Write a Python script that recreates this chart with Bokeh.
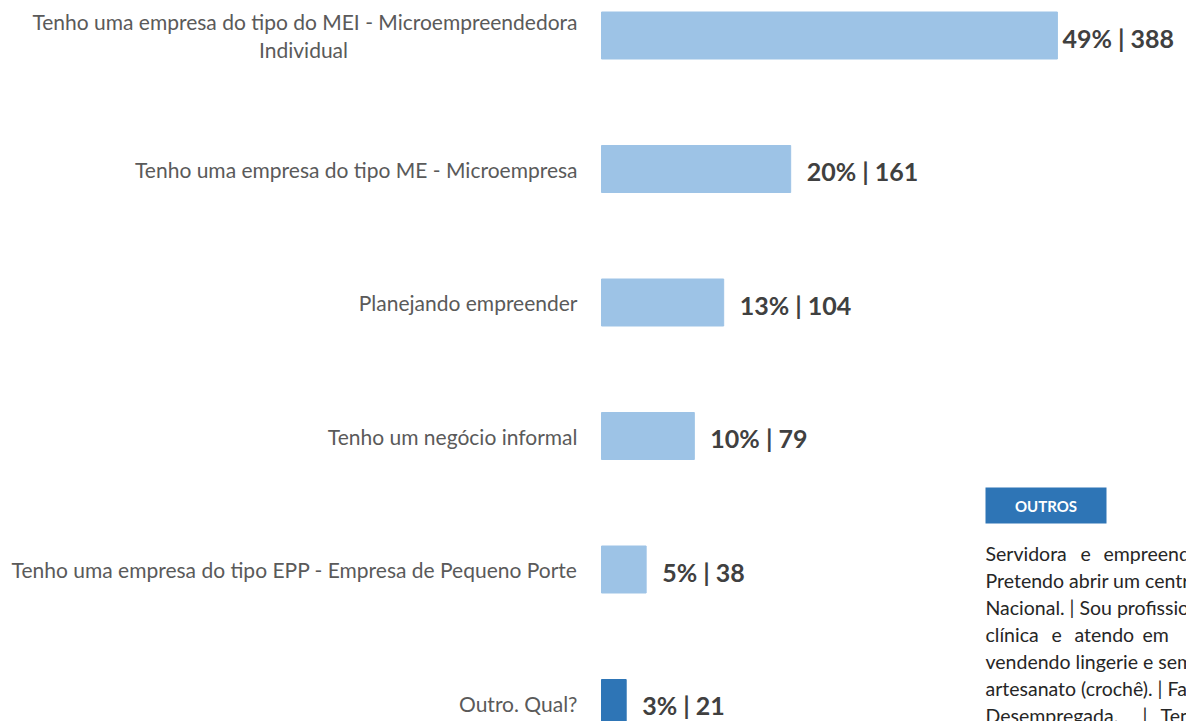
from bokeh.plotting import figure
from bokeh.models import Range1d, ColumnDataSource
from bokeh.core.properties import value
from bokeh.embed import file_html
from bokeh.resources import INLINE

# ---- data ----
categories = [
    "Tenho uma empresa do tipo do MEI - Microempreendedora\nIndividual",
    "Tenho uma empresa do tipo ME - Microempresa",
    "Planejando empreender",
    "Tenho um negócio informal",
    "Tenho uma empresa do tipo EPP - Empresa de Pequeno Porte",
    "Outro. Qual?",
]
percents = [49, 20, 13, 10, 5, 3]
counts = [388, 161, 104, 79, 38, 21]
outros_title = "OUTROS"
outros_lines = [
    ["Servidora", "e", "empreendedora."],
    ["Pretendo abrir um centro de estética."],
    ["Nacional. | Sou profissional liberal"],
    ["clínica", "e", "atendo", "em", "domicílio."],
    ["vendendo lingerie e semijoias."],
    ["artesanato (crochê). | Faço"],
    ["Desempregada.", "|", "Tenho"],
]

# ---- layout ----
W, H = 1186, 721
SCALE = 1.175      # px per count
X0 = 601           # canvas px of zero
Y0 = 35            # canvas px of first bar centre
STEP = 133.5       # px between bars
FONT = "Lato"

def px2x(px):
    return (px - X0) / SCALE

def px2y(py):
    return (py - Y0) / STEP

p = figure(width=W, height=H, output_backend="svg", toolbar_location=None,
           x_range=Range1d(px2x(0), px2x(W)), y_range=Range1d(px2y(H), px2y(0)),
           min_border=0)
p.xaxis.visible = False
p.yaxis.visible = False
p.grid.visible = False
p.outline_line_color = None
p.background_fill_color = "white"

idx = list(range(len(categories)))
colors = ["#9dc3e6"] * (len(categories) - 1) + ["#2e75b6"]
src = ColumnDataSource(dict(y=idx, n=counts, c=colors,
                            lab=[f"{pc}% | {n}" for pc, n in zip(percents, counts)],
                            xo=[5] + [16] * (len(counts) - 1)))
p.hbar(y="y", left=0, right="n", height=47 / STEP, color="c", source=src)

p.text(x="n", y="y", text="lab", source=src, x_offset="xo", y_offset=2,
       text_font=value(FONT), text_font_style="bold", text_font_size="25px",
       text_color="#404040", text_align="left", text_baseline="middle")

# category labels
LAB = dict(text_font=value(FONT), text_font_size="21px", text_color="#5a5a5a",
           text_baseline="middle")
for i, cat in enumerate(categories):
    lines = cat.split("\n")
    if len(lines) == 1:
        p.text(x=[0], y=[i], text=[cat], x_offset=-24, text_align="right", **LAB)
    else:
        p.text(x=[0], y=[i], text=[lines[0]], x_offset=-24, y_offset=-14,
               text_align="right", **LAB)
        p.text(x=[0], y=[i], text=[lines[1]], x_offset=-298, y_offset=14,
               text_align="center", **LAB)

# OUTROS box
bx0, bx1, by0, by1 = 985, 1106, 487, 523
p.quad(left=[px2x(bx0)], right=[px2x(bx1)], top=[px2y(by0)], bottom=[px2y(by1)],
       fill_color="#2e75b6", line_color=None)
p.text(x=[px2x((bx0 + bx1) / 2)], y=[px2y((by0 + by1) / 2)], text=[outros_title],
       text_font=value(FONT), text_font_style="bold", text_font_size="15px",
       text_color="white", text_align="center", text_baseline="middle")

# paragraph
word_x = {0: [985, 1080, 1103], 3: [985, 1051, 1074, 1142, 1190], 6: [985, 1142, 1160]}
base = 553
for li, words in enumerate(outros_lines):
    xs = word_x.get(li, [985])
    for wi, wtxt in enumerate(words):
        p.text(x=[px2x(xs[wi])], y=[px2y(base + li * 27)], text=[wtxt],
               text_font=value(FONT), text_font_size="19.5px", text_color="#262626",
               text_align="left", text_baseline="alphabetic")

open("out.html", "w").write(file_html(p, INLINE))
